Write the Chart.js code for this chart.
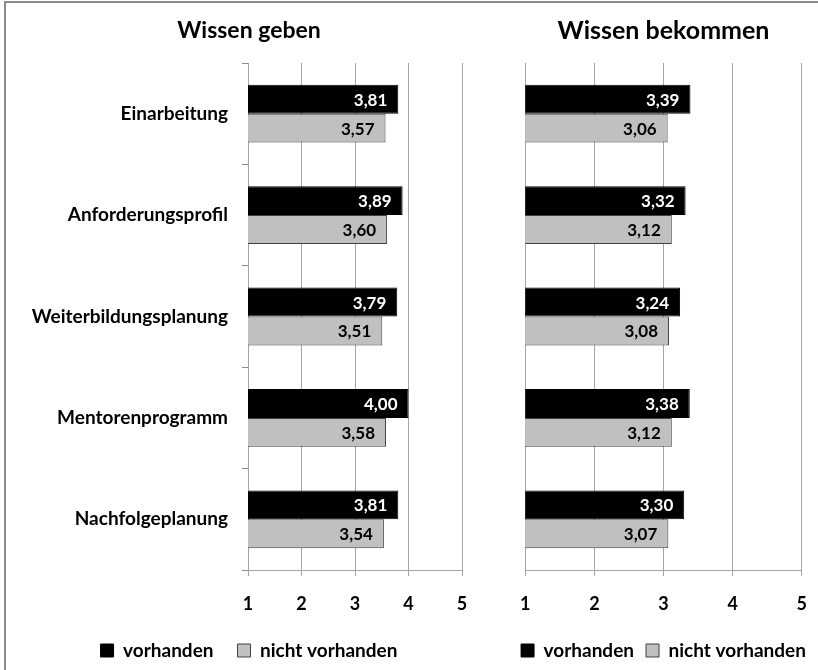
<!DOCTYPE html>
<html>
<head>
<meta charset="utf-8"/>
<title>Wissen geben / Wissen bekommen</title>
<script src="https://cdn.jsdelivr.net/npm/chart.js@4.4.1/dist/chart.umd.min.js"></script>
<style>
    html, body { margin: 0; padding: 0; background: #fff; width: 818px; height: 670px; overflow: hidden; }
    .rahmen { position: absolute; left: 4px; top: 1px; width: 840px; height: 700px;
              border-top: 2px solid #8c8c8c; border-left: 2px solid #8c8c8c; }
    #boxGeben { position: absolute; left: 0; top: 0; width: 498px; height: 670px; }
    #boxBekommen { position: absolute; left: 503px; top: 0; width: 321px; height: 670px; }
</style>
</head>
<body>
<div class="rahmen"></div>
<div id="boxGeben"><canvas id="chartGeben"></canvas></div>
<div id="boxBekommen"><canvas id="chartBekommen"></canvas></div>

<script>
    var kategorien = ['Einarbeitung', 'Anforderungsprofil', 'Weiterbildungsplanung', 'Mentorenprogramm', 'Nachfolgeplanung'];
    var serien = ['vorhanden', 'nicht vorhanden'];
    var gebenVorhanden = [3.81, 3.89, 3.79, 4.00, 3.81];
    var gebenNicht = [3.57, 3.60, 3.51, 3.58, 3.54];
    var bekommenVorhanden = [3.39, 3.32, 3.24, 3.38, 3.30];
    var bekommenNicht = [3.06, 3.12, 3.08, 3.12, 3.07];
    var xMin = 1, xMax = 5;

    var schrift = 'Lato';
    var gitter = '#a6a6a6';

    // Werte rechts in den Balken schreiben
    var wertLabels = {
        id: 'wertLabels',
        afterDatasetsDraw: function(chart) {
            var ctx = chart.ctx;
            ctx.save();
            ctx.font = 'bold 17px ' + schrift;
            ctx.textAlign = 'right';
            ctx.textBaseline = 'middle';
            chart.data.datasets.forEach(function(ds, i) {
                chart.getDatasetMeta(i).data.forEach(function(bar, j) {
                    ctx.fillStyle = i === 0 ? '#fff' : '#000';
                    ctx.fillText(ds.data[j].toFixed(2).replace('.', ','), bar.x - 11, bar.y + 1);
                });
            });
            ctx.restore();
        }
    };

    function baueChart(id, titel, werte1, werte2, o) {
        var ctx = document.getElementById(id).getContext('2d');
        return new Chart(ctx, {
            type: 'bar',
            data: {
                labels: kategorien,
                datasets: [
                    { label: serien[0], data: werte1, backgroundColor: '#000', borderColor: '#000', borderWidth: 1 },
                    { label: serien[1], data: werte2, backgroundColor: '#c0c0c0', borderColor: '#404040', borderWidth: 1 }
                ]
            },
            options: {
                indexAxis: 'y',
                responsive: true,
                maintainAspectRatio: false,
                animation: false,
                datasets: { bar: { categoryPercentage: 0.57, barPercentage: 1.0 } },
                scales: {
                    x: {
                        type: 'linear', min: xMin, max: xMax,
                        grid: { color: gitter, tickLength: 6 },
                        border: { color: gitter },
                        ticks: { stepSize: 1, color: '#000', padding: 17, font: { family: schrift, size: 18, weight: 'bold' } },
                        afterFit: function(s) { s.height += o.extra; }
                    },
                    y: {
                        grid: { drawOnChartArea: false, drawTicks: o.achsenText, tickLength: 6, color: '#8c8c8c', offset: true },
                        border: { color: gitter },
                        ticks: { display: o.achsenText, color: '#000', padding: 14, font: { family: schrift, size: 19, weight: 'bold' } },
                        afterFit: function(s) { s.width = o.yBreite; }
                    },
                    // leerer Rand rechts, damit Titel und Legende die ganze Breite behalten
                    rand: {
                        type: 'category', position: 'right',
                        grid: { display: false }, border: { display: false }, ticks: { display: false },
                        afterFit: function(s) { s.width = o.rechts; }
                    }
                },
                plugins: {
                    title: { display: true, text: titel, color: '#000', padding: o.titelPad,
                             font: { family: schrift, size: o.titelGroesse, weight: 'bold' } },
                    legend: {
                        position: 'bottom',
                        labels: { boxWidth: 13, boxHeight: 13, padding: o.legPad, color: '#000',
                                  font: { family: schrift, size: 19, weight: 'bold' } }
                    },
                    tooltip: { enabled: false }
                }
            },
            plugins: [wertLabels]
        });
    }

    baueChart('chartGeben', 'Wissen geben', gebenVorhanden, gebenNicht,
        { achsenText: true, yBreite: 248, rechts: 36, legPad: 24, extra: -14.6,
          titelGroesse: 23, titelPad: { top: 17, bottom: 18.4 } });
    baueChart('chartBekommen', 'Wissen bekommen', bekommenVorhanden, bekommenNicht,
        { achsenText: false, yBreite: 20, rechts: 17, legPad: 12, extra: -2.6,
          titelGroesse: 25, titelPad: { top: 16, bottom: 17 } });
</script>
</body>
</html>
